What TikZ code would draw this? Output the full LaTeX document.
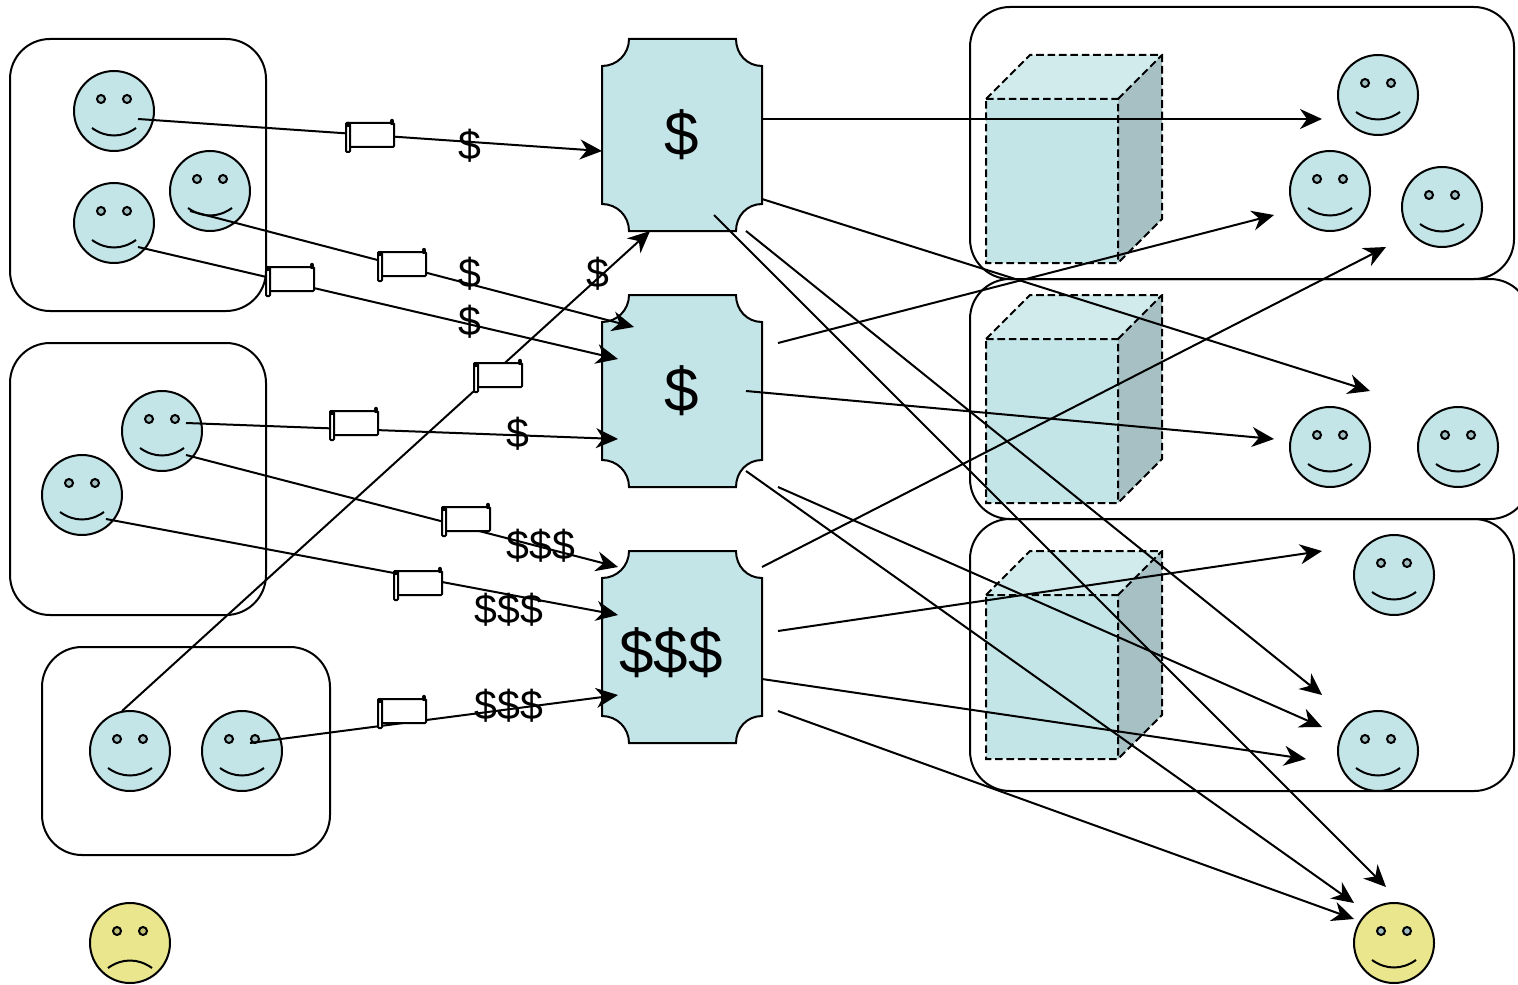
\documentclass[tikz,border=0pt]{standalone}
\usepackage{fontspec}
\setmainfont{Liberation Sans}
\usetikzlibrary{arrows.meta}
\definecolor{facecol}{HTML}{C4E5E8}
\definecolor{sadcol}{HTML}{E9E68E}
\definecolor{eyecol}{HTML}{A3BEC1}
\definecolor{sadeye}{HTML}{C2BF76}
\definecolor{sidecol}{HTML}{A6C0C4}
\definecolor{topcol}{HTML}{D1EAEC}
\tikzset{%
  face/.style={draw, circle, fill=facecol, inner sep=0pt, minimum size=40pt},
  sadface/.style={face, fill=sadcol},
  groupbox/.style={draw, rounded corners=20pt},
  link/.style={draw, ->, >={Stealth[length=11pt, width=10pt, inset=3.5pt]}},
  rollbody/.style={draw, fill=white, rounded corners=0.5pt, inner sep=0pt, minimum width=24pt, minimum height=12pt},
  money/.style={font=\fontsize{20.5}{24}\selectfont, inner sep=0pt},
  bigmoney/.style={font=\fontsize{31}{36}\selectfont, inner sep=0pt},
  % eyes and mouth of a face, around the centre of its node
  smile/.pic={
    \draw[fill=eyecol] (-13,-12) circle (2pt);
    \draw[fill=eyecol] (13,-12) circle (2pt);
    \draw (-22,17) .. controls (-8,27) and (8,27) .. (22,17);
  },
  frown/.pic={
    \draw[fill=sadeye] (-13,-12) circle (2pt);
    \draw[fill=sadeye] (13,-12) circle (2pt);
    \draw (-22,25) .. controls (-8,15) and (8,15) .. (22,25);
  },
  % the small roll on the left of a scroll
  roll/.pic={
    \draw[fill=white, rounded corners=0.5pt] (-24,-12) rectangle (-20,17);
    \draw[line width=2.2pt, line cap=round] (-22,-11) -- (-22,-10);
    \draw[line width=2.2pt, line cap=round] (22,-14) -- (22,-12);
  },
  % shape with hollow corners, 160 wide and 192 high, from its top left
  plaque/.pic={
    \draw[fill=facecol] (27,0) -- (134,0) .. controls (134,15) and (145,27) .. (160,27)
      -- (160,165) .. controls (145,165) and (134,177) .. (134,192)
      -- (27,192) .. controls (27,177) and (15,165) .. (0,165)
      -- (0,27) .. controls (15,27) and (27,15) .. (27,0) -- cycle;
  },
  % dashed block, from the top left of its front face
  block/.pic={
    \fill[topcol] (0,0) -- (44,-44) -- (176,-44) -- (132,0) -- cycle;
    \fill[facecol] (0,0) rectangle (132,164);
    \fill[sidecol] (132,0) -- (176,-44) -- (176,120) -- (132,164) -- cycle;
    \draw[dash pattern=on 3.8pt off 1.9pt] (0,0) -- (44,-44) -- (176,-44) -- (176,120) -- (132,164) -- (0,164) -- cycle;
    \draw[dash pattern=on 3.8pt off 1.9pt] (0,0) -- (132,0) -- (132,164) (132,0) -- (176,-44);
  }
}

\begin{document}
\begin{tikzpicture}[x=0.5pt, y=-0.5pt, line width=1pt]
\useasboundingbox (0,0) rectangle (1518,984);

\draw[groupbox] (10,39) rectangle (266,311);
\draw[groupbox] (10,343) rectangle (266,615);
\draw[groupbox] (42,647) rectangle (330,855);
\draw[groupbox] (970,7) rectangle (1514,279);
\draw[groupbox] (970,279) rectangle (1530,519);
\draw[groupbox] (970,519) rectangle (1514,791);

\pic at (986,99) {block};
\pic at (986,339) {block};
\pic at (986,595) {block};

\pic at (602,39) {plaque};
\pic at (602,295) {plaque};
\pic at (602,551) {plaque};

\node[face] (a0) at (114,111) {};
\node[face] (a1) at (210,191) {};
\node[face] (a2) at (114,223) {};
\node[face] (a3) at (162,431) {};
\node[face] (a4) at (82,495) {};
\node[face] (a5) at (130,751) {};
\node[face] (a6) at (242,751) {};
\node[sadface] (a7) at (130,943) {};
\pic at (a0) {smile};
\pic at (a1) {smile};
\pic at (a2) {smile};
\pic at (a3) {smile};
\pic at (a4) {smile};
\pic at (a5) {smile};
\pic at (a6) {smile};
\pic at (a7) {frown};

\node[face] (b0) at (1378,95) {};
\node[face] (b1) at (1330,191) {};
\node[face] (b2) at (1442,207) {};
\node[face] (b3) at (1330,447) {};
\node[face] (b4) at (1458,447) {};
\node[face] (b5) at (1394,575) {};
\node[face] (b6) at (1378,751) {};
\node[sadface] (b7) at (1394,943) {};
\pic at (b0) {smile};
\pic at (b1) {smile};
\pic at (b2) {smile};
\pic at (b3) {smile};
\pic at (b4) {smile};
\pic at (b5) {smile};
\pic at (b6) {smile};
\pic at (b7) {smile};

% payments, left side
\coordinate (s0) at (138,119);
\coordinate (s1) at (190,211);
\coordinate (s2) at (138,247);
\coordinate (s3) at (186,423);
\coordinate (s4) at (186,455);
\coordinate (s5) at (106,519);
\coordinate (s6) at (250,743);
\coordinate (s7) at (122,711);
\coordinate (e0) at (602,151);
\coordinate (e1) at (634,327);
\coordinate (e2) at (618,359);
\coordinate (e3) at (618,439);
\coordinate (e4) at (618,567);
\coordinate (e5) at (618,615);
\coordinate (e6) at (618,695);
\coordinate (e7) at (650,231);
\draw[link] (s0) -- (e0);
\draw[link] (s1) -- (e1);
\draw[link] (s2) -- (e2);
\draw[link] (s3) -- (e3);
\draw[link] (s4) -- (e4);
\draw[link] (s5) -- (e5);
\draw[link] (s6) -- (e6);
\draw[link] (s7) -- (e7);

% right side
\coordinate (t0) at (762,119);
\coordinate (t1) at (762,199);
\coordinate (t2) at (714,215);
\coordinate (t3) at (746,231);
\coordinate (t4) at (778,343);
\coordinate (t5) at (746,391);
\coordinate (t6) at (746,471);
\coordinate (t7) at (778,487);
\coordinate (t8) at (762,567);
\coordinate (t9) at (778,631);
\coordinate (t10) at (762,679);
\coordinate (t11) at (778,711);
\coordinate (u0) at (1322,119);
\coordinate (u1) at (1370,391);
\coordinate (u2) at (1386,887);
\coordinate (u3) at (1322,695);
\coordinate (u4) at (1274,215);
\coordinate (u5) at (1274,439);
\coordinate (u6) at (1354,903);
\coordinate (u7) at (1322,727);
\coordinate (u8) at (1386,247);
\coordinate (u9) at (1322,551);
\coordinate (u10) at (1306,759);
\coordinate (u11) at (1354,919);
\draw[link] (t0) -- (u0);
\draw[link] (t1) -- (u1);
\draw[link] (t2) -- (u2);
\draw[link] (t3) -- (u3);
\draw[link] (t4) -- (u4);
\draw[link] (t5) -- (u5);
\draw[link] (t6) -- (u6);
\draw[link] (t7) -- (u7);
\draw[link] (t8) -- (u8);
\draw[link] (t9) -- (u9);
\draw[link] (t10) -- (u10);
\draw[link] (t11) -- (u11);

\node[rollbody] (r0) at (370,135) {};
\node[rollbody] (r1) at (402,264) {};
\node[rollbody] (r2) at (290,279) {};
\node[rollbody] (r3) at (498,375) {};
\node[rollbody] (r4) at (354,423) {};
\node[rollbody] (r5) at (466,519) {};
\node[rollbody] (r6) at (418,583) {};
\node[rollbody] (r7) at (402,711) {};
\pic at (r0) {roll};
\pic at (r1) {roll};
\pic at (r2) {roll};
\pic at (r3) {roll};
\pic at (r4) {roll};
\pic at (r5) {roll};
\pic at (r6) {roll};
\pic at (r7) {roll};

\node[money] (m0) at (470,146) {\$};
\node[money] (m1) at (470,274) {\$};
\node[money] (m2) at (470,322) {\$};
\node[money] (m3) at (598,274) {\$};
\node[money] (m4) at (518,434) {\$};
\node[money] (m5) at (541,546) {\$\$\$};
\node[money] (m6) at (509,610) {\$\$\$};
\node[money] (m7) at (509,706) {\$\$\$};

\node[bigmoney] (n0) at (682,135) {\$};
\node[bigmoney] (n1) at (682,391) {\$};
\node[bigmoney] (n2) at (671,653) {\$\$\$};
\end{tikzpicture}
\end{document}
